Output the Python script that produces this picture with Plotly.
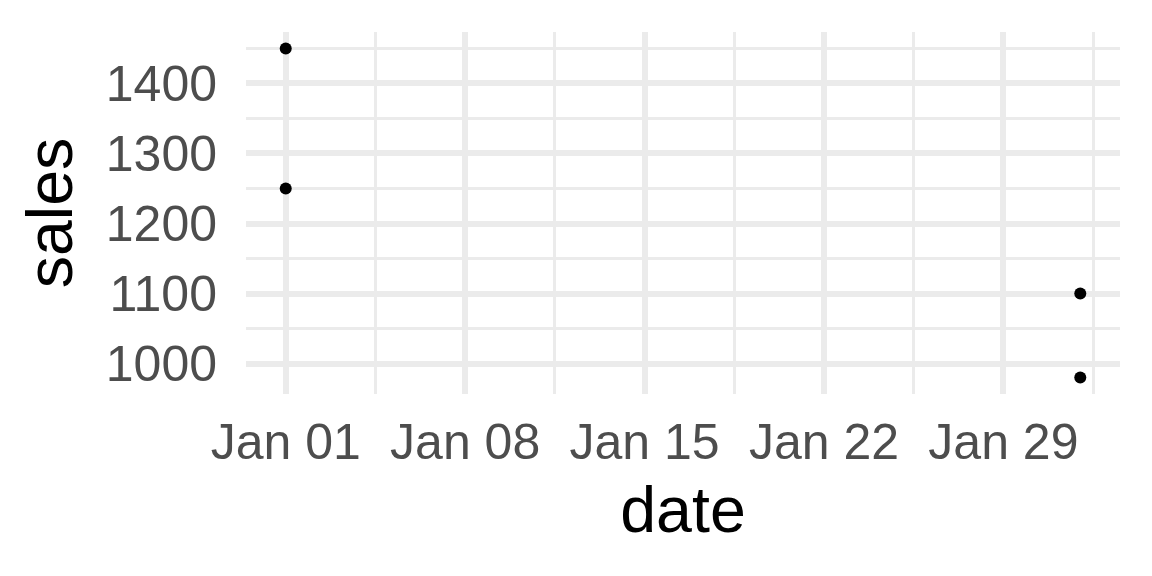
import plotly.graph_objects as go
import pandas as pd

dates = ["2024-01-01", "2024-01-01", "2024-02-01", "2024-02-01"]
sales = [1450, 1250, 1100, 980]
x_tickvals = ["2024-01-01", "2024-01-08", "2024-01-15", "2024-01-22", "2024-01-29"]
x_ticktext = ["Jan 01", "Jan 08", "Jan 15", "Jan 22", "Jan 29"]
y_tickvals = [1000, 1100, 1200, 1300, 1400]

d = pd.to_datetime(pd.Series(dates))
span = d.max() - d.min()
xr = [d.min() - span * 0.05, d.max() + span * 0.05]
ys = max(sales) - min(sales)
yr = [min(sales) - ys * 0.05, max(sales) + ys * 0.05]

minor_x = pd.date_range(d.min() - pd.Timedelta(days=3.5), d.max() + pd.Timedelta(days=3.5), freq="7D")

fig = go.Figure()
fig.add_trace(go.Scatter(x=d, y=sales, mode="markers",
                         marker=dict(color="black", size=12), showlegend=False))

grid = "#EBEBEB"
fig.update_layout(
    width=1152, height=576,
    margin=dict(l=246, r=32, t=32, b=182),
    paper_bgcolor="white", plot_bgcolor="white",
    font=dict(family="Liberation Sans, Arial, sans-serif"),
    xaxis=dict(
        type="date", range=xr,
        tickvals=x_tickvals, ticktext=x_ticktext,
        showgrid=True, gridcolor=grid, gridwidth=6,
        zeroline=False, showline=False, ticks="",
        tickfont=dict(size=50, color="#4D4D4D"),
        ticklabelstandoff=14,
        minor=dict(tickvals=list(minor_x), showgrid=True, gridcolor=grid, gridwidth=3),
        title=dict(text="date", font=dict(size=64.5, color="black"), standoff=17),
    ),
    yaxis=dict(
        range=yr,
        tickvals=y_tickvals,
        showgrid=True, gridcolor=grid, gridwidth=6,
        zeroline=False, showline=False, ticks="",
        tickfont=dict(size=50, color="#4D4D4D"),
        ticklabelstandoff=28,
        minor=dict(dtick=100, tick0=1050, showgrid=True, gridcolor=grid, gridwidth=3),
        title=dict(text="sales", font=dict(size=64.5, color="black"), standoff=12),
    ),
)
fig.write_html("out.html")
